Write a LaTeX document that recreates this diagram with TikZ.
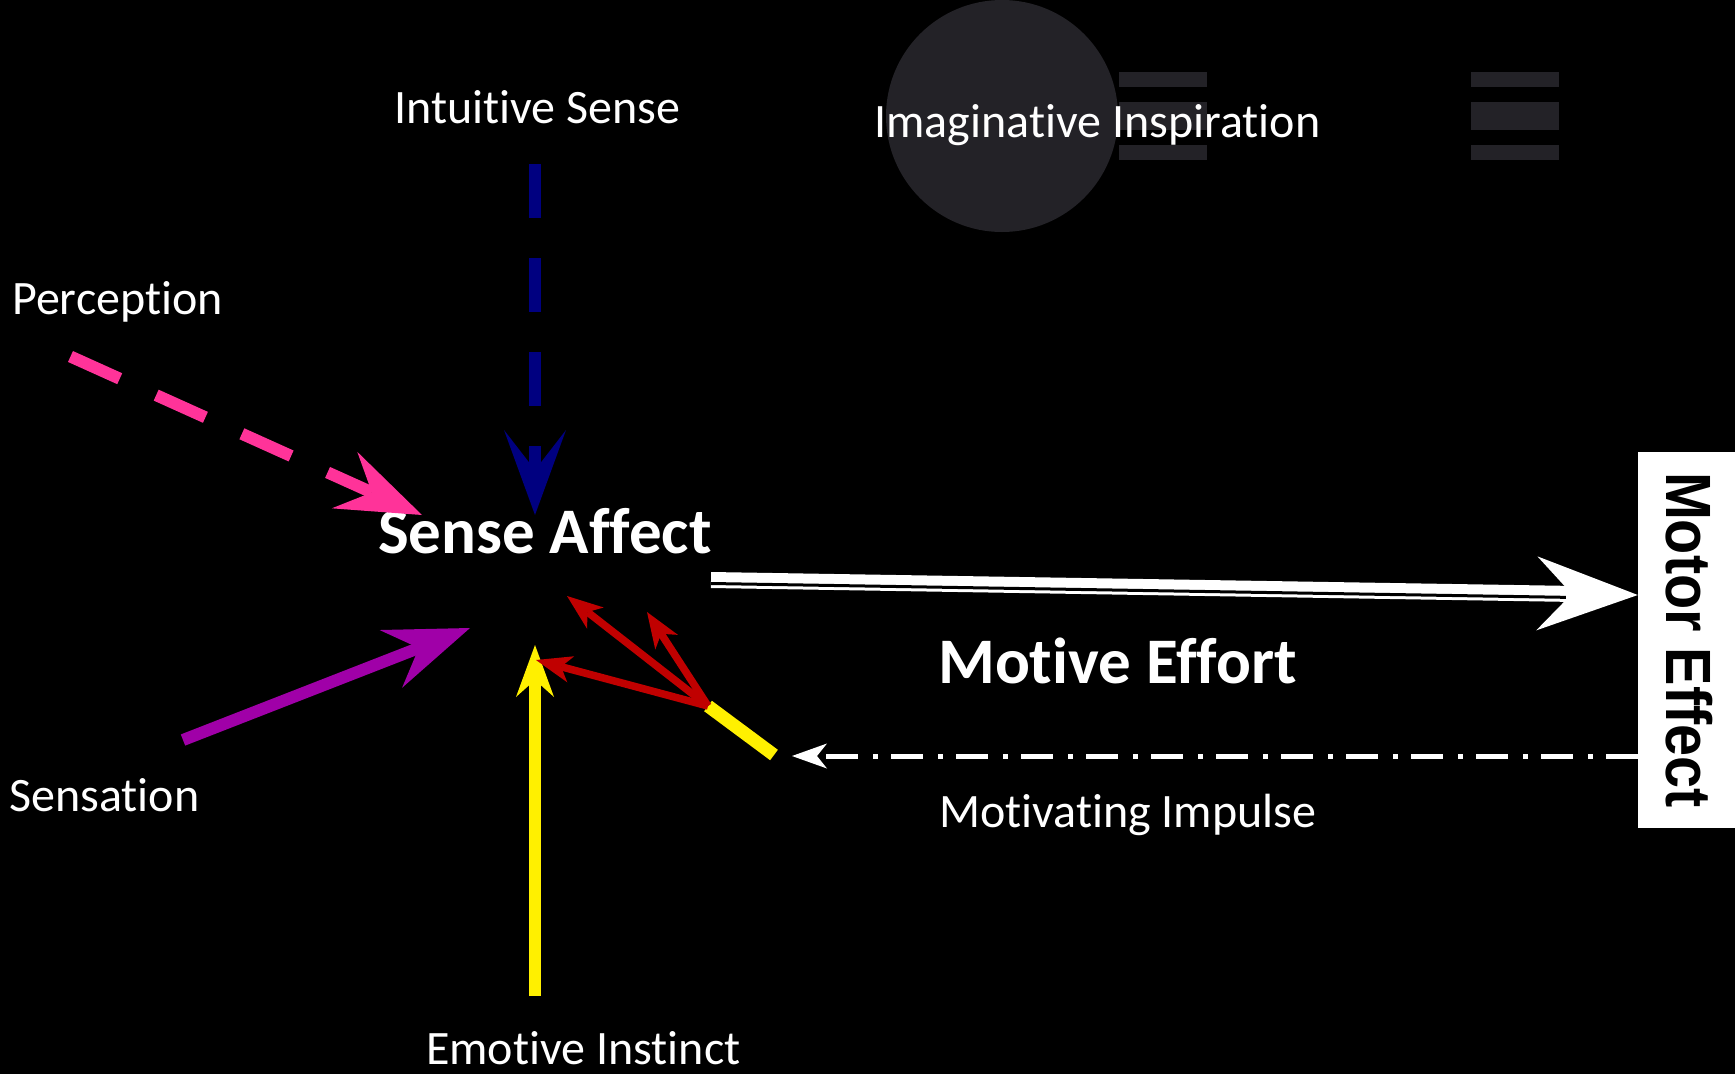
\documentclass[tikz,border=0pt]{standalone}
\usepackage{fontspec}
\setmainfont{Carlito}[Ligatures=NoCommon]
\newfontfamily\motorfont{Liberation Sans}
\usetikzlibrary{arrows.meta}
\definecolor{perceptpink}{RGB}{255,51,153}
\definecolor{intuitblue}{RGB}{0,0,128}
\definecolor{sensepurple}{RGB}{160,0,168}
\definecolor{instinctyellow}{RGB}{255,240,0}
\definecolor{impulsered}{RGB}{192,0,0}
\definecolor{shadegray}{RGB}{35,34,39}

\begin{document}
\begin{tikzpicture}[x=1pt, y=-1pt,
    term/.style={text=white, inner sep=0pt, anchor=base west, font=\fontsize{48}{56}\selectfont},
    keyterm/.style={term, font=\fontsize{65}{76}\selectfont\bfseries},
    effectbox/.style={fill=white, text=black, inner sep=0pt, minimum width=97pt, minimum height=376pt, font=\motorfont\bfseries\fontsize{64}{70}\selectfont},
    bigtip/.style={-{Stealth[length=85pt, width=62pt, inset=#1, line width=0pt]}},
    redtip/.style={-{Stealth[length=36pt, width=27pt, inset=10pt, line width=0pt]}},
    flow/.style={line width=12pt}]
    \useasboundingbox (0,0) rectangle (1735,1074);
    \fill[black] (0,0) rectangle (1735,1074);

    \fill[shadegray] (1002,116) circle[radius=116];
    \foreach \bx in {1119,1471} {
        \fill[shadegray] (\bx,72) rectangle ++(88,15);
        \fill[shadegray] (\bx,102) rectangle ++(88,28);
        \fill[shadegray] (\bx,145) rectangle ++(88,15);
    }

    \node[term] (intuitive) at (394,123) {Intuitive Sense};
    \node[term] (imagine) at (874,137) {Imaginative Inspiration};
    \node[term] (perception) at (12,314) {Perception};
    \node[term] (sensation) at (9,811) {Sensation};
    \node[term] (emotive) at (426,1064) {Emotive Instinct};
    \node[term] (impulse) at (939,827) {Motivating Impulse};
    \node[keyterm] (sense) at (378,553) {Sense Affect};
    \node[keyterm] (motive) at (938,683) {Motive Effort};
    \node[effectbox] (motor) at (1686.5,640) {\hspace*{6pt}\rotatebox{-90}{\scalebox{0.9}[1]{Motor Effect}}};

    \coordinate (intuit-from) at (535,164);
    \coordinate (intuit-to) at (535,515);
    \coordinate (percep-from) at (70.5,356.5);
    \coordinate (percep-to) at (422,515);
    \coordinate (sensa-from) at (183,740);
    \coordinate (sensa-to) at (470,628);
    \coordinate (instinct-from) at (535,996);
    \coordinate (instinct-to) at (535,645);
    \coordinate (fork) at (708,706);
    \coordinate (impulse-end) at (774,755);
    \coordinate (back1) at (536,660);
    \coordinate (back2) at (567,596);
    \coordinate (back3) at (647,612);
    \coordinate (effort-from) at (711,580);
    \coordinate (effort-to) at (motor.west |- 0,595);
    \coordinate (impulse-from) at (motor.west |- 0,756);
    \coordinate (impulse-to) at (792,756);

    \draw[intuitblue, flow, dash pattern=on 54pt off 40pt, bigtip=40pt] (intuit-from) -- (intuit-to);
    \draw[perceptpink, flow, dash pattern=on 54pt off 40pt, bigtip=30pt] (percep-from) -- (percep-to);
    \draw[sensepurple, flow, bigtip=30pt] (sensa-from) -- (sensa-to);
    \draw[instinctyellow, line width=12.5pt, -{Stealth[length=52pt, width=38pt, inset=17pt, line width=0pt]}] (instinct-from) -- (instinct-to);
    \draw[instinctyellow, line width=13pt] (impulse-end) -- (fork);
    \foreach \tip in {back1,back2,back3}
        \draw[impulsered, line width=7.5pt, redtip] (fork) -- (\tip);

    \draw[white, line width=16pt, -{Stealth[length=101pt, width=74pt, inset=35pt, line width=0pt]}] (effort-from) -- (effort-to);
    \draw[black, line width=3pt, transform canvas={yshift=-3.5pt}, shorten >=72pt] (effort-from) -- (effort-to);
    \draw[white, line width=5pt, dash pattern=on 32pt off 13pt on 5pt off 15pt, -{Stealth[length=35pt, width=25pt, inset=10pt, line width=0pt]}] (impulse-from) -- (impulse-to);
\end{tikzpicture}
\end{document}
